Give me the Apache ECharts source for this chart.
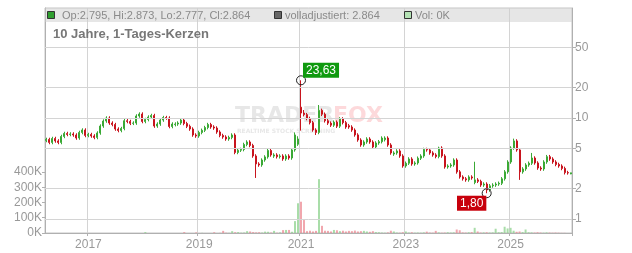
<!DOCTYPE html>
<html><head><meta charset="utf-8">
<script src="https://cdn.jsdelivr.net/npm/echarts@6/dist/echarts.min.js"></script>
<style>html,body{margin:0;padding:0;background:#fff}#c{width:632px;height:253px}</style>
</head><body><div id="c"></div>
<script>
// ---- data ----
const yearLabels = ['2016','2017','2018','2019','2020','2021','2022','2023','2024','2025','2026'];
const candlesPerYear = [14,18,19,17,17,17,18,17,18,17,4];
const tickYears = ['2017','2019','2021','2023','2025'];
const priceTicks = [1,2,5,10,20,50];
const volumeTicks = [0,100000,200000,300000,400000];

const opens = [
6.00,6.13,5.73,6.27,5.93,5.73,6.57,7.03,6.87,6.95,
6.79,6.34,7.19,7.61,6.72,6.87,6.64,6.42,7.11,8.33,
9.34,10.00,8.92,8.62,7.78,7.52,7.87,9.40,9.24,8.86,
8.92,10.47,10.95,9.24,9.66,10.23,10.59,8.33,8.72,9.55,
10.11,10.00,8.24,8.60,8.72,8.92,9.55,8.82,8.28,7.78,
6.79,6.64,7.19,7.56,8.05,8.62,8.15,7.96,7.27,6.72,
6.49,6.20,6.42,6.79,4.56,4.80,4.88,5.47,5.79,5.35,
4.21,3.51,3.43,3.84,4.12,4.77,4.20,4.31,4.14,4.21,
3.93,4.21,4.02,4.83,5.50,12.80,11.20,10.80,9.90,9.00,
7.61,7.20,11.90,10.90,9.40,8.90,8.50,9.10,8.30,9.80,
9.00,8.40,8.15,7.60,6.80,6.06,5.41,5.79,6.20,5.79,
5.17,5.66,5.83,6.10,6.34,5.41,4.40,4.51,4.72,4.21,
3.35,3.57,3.93,3.51,3.59,4.00,4.21,4.88,4.83,4.51,
4.31,4.16,5.05,4.21,3.28,3.35,3.43,3.84,2.93,2.61,
2.50,2.44,2.61,2.30,2.44,2.36,2.17,2.22,1.94,2.13,
2.17,2.22,2.26,2.50,2.93,3.67,5.05,5.93,4.83,2.93,
3.13,3.43,3.57,4.02,3.59,3.20,3.13,3.67,4.14,3.93,
3.67,3.47,3.35,3.17,2.88,2.795];
const closes = [
6.13,5.73,6.27,5.93,5.73,6.57,7.03,6.87,6.95,6.79,
6.34,7.19,7.61,6.72,6.87,6.64,6.42,7.11,8.33,9.34,
10.00,8.92,8.62,7.78,7.52,7.87,9.40,9.24,8.86,8.92,
10.47,10.95,9.24,9.66,10.23,10.59,8.33,8.72,9.55,10.11,
10.00,8.24,8.72,8.72,8.92,9.55,8.82,8.28,7.78,6.79,
6.64,7.19,7.56,8.05,8.62,8.15,7.96,7.27,6.72,6.49,
6.20,6.42,6.79,4.56,4.80,4.88,5.47,5.79,5.35,4.21,
3.51,3.43,3.84,4.12,4.77,4.31,4.31,4.14,4.21,3.93,
4.21,4.02,4.83,6.80,6.20,11.20,10.80,9.90,9.00,7.61,
7.20,11.90,10.90,9.40,8.90,8.50,9.10,8.30,9.80,9.00,
8.15,8.15,7.60,6.80,6.06,5.41,5.79,6.20,5.79,5.17,
5.66,5.83,6.34,6.34,5.41,4.51,4.51,4.72,4.21,3.35,
3.57,3.93,3.51,3.59,4.00,4.21,4.88,4.83,4.51,4.31,
4.16,5.05,4.21,3.28,3.35,3.43,3.84,2.93,2.61,2.50,
2.44,2.61,2.55,2.44,2.36,2.17,2.22,1.94,2.13,2.17,
2.22,2.26,2.50,2.93,3.67,5.05,5.93,4.83,2.93,3.13,
3.43,3.57,4.02,3.59,3.20,3.13,3.67,4.14,3.93,3.67,
3.47,3.35,3.17,2.88,2.86,2.864];
const highs = [
6.38,6.38,6.52,6.52,6.17,6.83,7.31,7.31,7.23,7.23,
7.06,7.48,7.91,7.91,7.14,7.14,6.91,7.39,8.66,9.71,
10.40,10.40,9.28,8.96,8.09,8.18,9.78,9.78,9.61,9.28,
10.89,11.39,11.39,10.05,10.64,11.01,11.01,9.07,9.93,10.51,
10.51,10.40,9.07,9.07,9.28,9.93,9.93,9.17,8.61,8.09,
7.06,7.48,7.86,8.37,8.96,8.96,8.48,8.28,7.56,6.99,
6.75,6.68,7.06,7.06,4.99,5.08,5.69,6.02,6.02,5.56,
4.38,3.65,3.99,4.28,4.96,4.96,4.48,4.48,4.38,4.38,
4.38,4.38,5.02,7.20,6.60,23.63,12.00,11.23,10.30,9.36,
7.91,13.45,12.38,11.34,9.78,9.26,9.46,9.46,10.19,10.19,
9.36,8.74,8.48,7.90,7.07,6.30,6.02,6.45,6.45,6.02,
5.89,6.06,6.59,6.59,6.59,5.63,4.69,4.91,4.91,4.38,
3.71,4.09,4.09,3.73,4.16,4.38,5.08,5.08,5.02,4.69,
4.48,5.20,5.25,4.38,3.48,3.57,3.99,3.99,3.05,2.71,
2.60,2.71,2.71,3.69,2.54,2.45,2.31,2.31,2.22,2.26,
2.31,2.35,2.60,3.05,3.82,5.25,6.25,6.17,5.02,3.26,
3.57,3.71,4.51,4.18,3.73,3.33,3.82,4.31,4.31,4.09,
3.82,3.61,3.48,3.30,3.00,2.873];
const lows = [
5.76,5.50,5.50,5.69,5.50,5.50,6.31,6.60,6.60,6.52,
6.09,6.09,6.90,6.45,6.45,6.37,6.16,6.16,6.83,8.00,
8.97,8.56,8.28,7.47,7.22,7.22,7.56,8.87,8.51,8.51,
8.56,10.05,8.87,8.87,9.27,9.82,8.00,8.00,8.37,9.17,
9.60,7.91,7.91,8.26,8.37,8.56,8.47,7.95,7.47,6.52,
6.37,6.37,6.90,7.26,7.73,7.82,7.64,6.98,6.45,6.23,
5.95,5.95,6.16,4.38,4.38,4.61,4.68,5.25,5.14,4.04,
2.55,3.29,3.29,3.69,3.96,4.14,4.03,3.97,3.97,3.77,
3.77,3.86,3.86,4.64,5.30,7.50,10.37,9.50,8.64,7.31,
6.79,6.91,10.46,9.02,8.54,8.16,8.16,7.97,7.97,8.64,
7.82,7.82,7.30,6.53,5.82,5.19,5.19,5.56,5.56,4.96,
4.96,5.43,5.60,5.86,5.19,4.33,4.22,4.33,4.04,3.22,
3.22,3.43,3.37,3.37,3.45,3.84,4.04,4.64,4.33,4.14,
3.99,3.99,4.04,3.15,3.15,3.22,3.29,2.81,2.51,2.40,
2.34,2.34,2.45,2.21,2.27,2.08,2.08,1.80,1.86,2.04,
2.08,2.13,2.17,2.40,2.81,3.52,4.85,4.64,2.44,2.81,
3.00,3.29,3.43,3.45,3.07,3.00,3.00,3.52,3.77,3.52,
3.33,3.22,3.04,2.76,2.75,2.777];
const volumes = [
0,0,0,0,0,0,0,0,0,0,
0,0,0,0,0,0,0,0,0,0,
0,0,0,0,0,0,0,0,0,0,
0,0,0,6000,0,0,0,0,0,0,
0,0,0,0,0,0,6000,0,0,0,
4000,0,1000,0,0,0,5000,0,1000,14000,
2000,1000,12000,5000,6000,2000,3000,12000,10000,6000,
4000,5000,3000,9000,8000,3000,14000,2000,4000,19000,
20000,20000,8000,78000,195000,205000,85000,12000,15000,10000,
14000,353000,47000,15000,14000,10000,20000,18000,12000,15000,
10000,14000,12000,16000,10000,12000,14000,10000,8000,12000,
6000,5000,3000,2000,4000,15000,10000,3000,2000,5000,
10000,3000,5000,2000,3000,2000,4000,9000,3000,2000,
14000,4000,2000,3000,5000,3000,4000,23000,18000,4000,
3000,5000,6000,34000,10000,3000,4000,5000,3000,4000,
28000,5000,6000,41000,30000,34000,15000,8000,10000,6000,
23000,5000,4000,3000,5000,3000,2000,4000,3000,2000,
3000,2000,1000,1000,0,0];

const highMark = {idx: 85, value: 23.63, text: '23,63'};
const lowMark = {idx: 147, value: 1.80, text: '1,80'};

// ---- build ----
const categories = [];
yearLabels.forEach((y, i) => { for (let k = 0; k < candlesPerYear[i]; k++) categories.push(y + '-' + (k + 1)); });
const isYearTick = (idx, val) => { const p = String(val).split('-'); return p[1] === '1' && tickYears.indexOf(p[0]) >= 0; };

const UP = '#3aa935', DOWN = '#c8141e';
const candleData = opens.map((o, i) => [o, closes[i], lows[i], highs[i]]);
const volData = volumes.map((v, i) => ({
  value: v,
  itemStyle: {color: closes[i] >= opens[i] ? 'rgba(140,210,140,0.75)' : 'rgba(235,130,140,0.7)'}
}));

const FONT = 'Liberation Sans, Arial, sans-serif';
const GRID = '#d4d4d4';
const chart = echarts.init(document.getElementById('c'), null, {renderer: 'canvas'});
chart.setOption({
  animation: false,
  backgroundColor: '#fff',
  grid: {left: 45, right: 60, top: 8, bottom: 20, show: true, borderColor: '#c4c4c4', borderWidth: 1, backgroundColor: 'transparent'},
  xAxis: {
    type: 'category', data: categories, boundaryGap: true,
    axisLine: {show: true, lineStyle: {color: '#b0b0b0'}},
    axisTick: {show: true, interval: isYearTick, length: 3, lineStyle: {color: '#b0b0b0'}},
    axisLabel: {interval: isYearTick, formatter: v => v.split('-')[0], color: '#999', fontSize: 12, fontFamily: FONT, margin: 6, hideOverlap: false},
    splitLine: {show: true, interval: isYearTick, lineStyle: {color: GRID, width: 1}}
  },
  yAxis: [
    {
      type: 'log', logBase: 10, position: 'right', min: 0.727, max: 122.8,
      axisLine: {show: true, lineStyle: {color: '#b0b0b0'}},
      axisTick: {show: true, customValues: priceTicks, length: 4, lineStyle: {color: '#b0b0b0'}},
      axisLabel: {customValues: priceTicks, color: '#999', fontSize: 12, fontFamily: FONT, margin: 3, showMinLabel: true, showMaxLabel: true},
      splitLine: {show: false}
    },
    {
      type: 'value', position: 'left', min: 0, max: 1475000,
      axisLine: {show: true, lineStyle: {color: '#b0b0b0'}},
      axisTick: {show: true, customValues: volumeTicks, length: 3, lineStyle: {color: '#b0b0b0'}},
      axisLabel: {customValues: volumeTicks, formatter: v => Math.round(v / 1000) + 'K', color: '#999', fontSize: 12, fontFamily: FONT, margin: 3},
      splitLine: {show: false}
    }
  ],
  series: [
    {
      // horizontal price gridlines at the tick values
      type: 'line', yAxisIndex: 0, data: [], z: 0, silent: true, symbol: 'none',
      markLine: {
        silent: true, symbol: 'none', animation: false,
        label: {show: false},
        lineStyle: {color: GRID, width: 1, type: 'solid'},
        data: priceTicks.map(v => ({yAxis: v}))
      }
    },
    {
      type: 'bar', yAxisIndex: 1, data: volData, barWidth: 2, z: 1, silent: true
    },
    {
      type: 'candlestick', yAxisIndex: 0, data: candleData, barMaxWidth: 2, z: 3,
      itemStyle: {color: UP, color0: DOWN, borderColor: UP, borderColor0: DOWN, borderWidth: 1},
      markPoint: {
        symbol: 'circle', symbolSize: 9, silent: true,
        itemStyle: {color: 'rgba(0,0,0,0)', borderColor: '#222', borderWidth: 1},
        data: [
          {coord: [categories[highMark.idx], highMark.value],
           label: {show: true, formatter: highMark.text, position: 'inside', offset: [20, -10], backgroundColor: '#0f9a0f', color: '#fff', fontSize: 12, fontFamily: FONT, padding: [2, 3, 1, 3]}},
          {coord: [categories[lowMark.idx], lowMark.value],
           label: {show: true, formatter: lowMark.text, position: 'inside', offset: [-15, 10], backgroundColor: '#c8000c', color: '#fff', fontSize: 12, fontFamily: FONT, padding: [2, 3, 1, 3]}}
        ]
      }
    }
  ],
  graphic: [
    {type: 'text', z: 0, x: 235, y: 116, style: {text: 'TRADER', fill: 'rgba(185,185,185,0.35)', font: 'bold 22px DejaVu Sans', textVerticalAlign: 'middle'}},
    {type: 'text', z: 0, x: 333, y: 116, style: {text: 'FOX', fill: 'rgba(245,80,90,0.22)', font: 'bold 22px DejaVu Sans', textVerticalAlign: 'middle'}},
    {type: 'text', z: 0, x: 237, y: 131, style: {text: 'REALTIME STOCK SCREENING', fill: 'rgba(185,185,185,0.35)', font: 'bold 6px DejaVu Sans', textVerticalAlign: 'middle'}},
    {type: 'rect', z: 50, shape: {x: 45, y: 8, width: 527, height: 14}, style: {fill: 'rgba(205,205,205,0.5)'}},
    {type: 'rect', z: 51, shape: {x: 47.5, y: 11.5, width: 7, height: 7}, style: {fill: '#2f9e2f', stroke: '#333', lineWidth: 1}},
    {type: 'text', z: 51, x: 62, y: 15.5, style: {text: 'Op:2.795, Hi:2.873, Lo:2.777, Cl:2.864', fill: '#8a8a8a', font: '11px Liberation Sans', textVerticalAlign: 'middle'}},
    {type: 'rect', z: 51, shape: {x: 274.5, y: 11.5, width: 7, height: 7}, style: {fill: '#666', stroke: '#333', lineWidth: 1}},
    {type: 'text', z: 51, x: 285, y: 15.5, style: {text: 'volladjustiert: 2.864', fill: '#8a8a8a', font: '11px Liberation Sans', textVerticalAlign: 'middle'}},
    {type: 'rect', z: 51, shape: {x: 404.5, y: 11.5, width: 7, height: 7}, style: {fill: '#b4e2b4', stroke: '#333', lineWidth: 1}},
    {type: 'text', z: 51, x: 415, y: 15.5, style: {text: 'Vol: 0K', fill: '#8a8a8a', font: '11px Liberation Sans', textVerticalAlign: 'middle'}},
    {type: 'text', z: 51, x: 53, y: 34, style: {text: '10 Jahre, 1-Tages-Kerzen', fill: '#777', font: 'bold 13px Liberation Sans', textVerticalAlign: 'middle'}}
  ]
});
</script></body></html>
